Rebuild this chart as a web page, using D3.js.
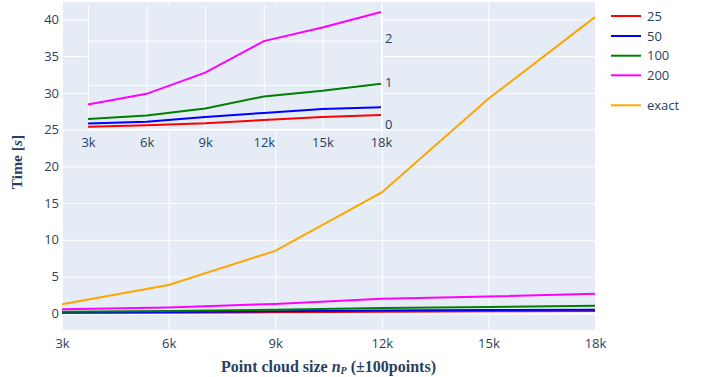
<!DOCTYPE html>
<html>
<head>
<meta charset="utf-8">
<script src="https://cdn.jsdelivr.net/npm/d3@7"></script>
<style>
  body { margin: 0; background: #fff; }
  .tick text { font-family: "Open Sans", sans-serif; font-size: 13px; fill: #2a3f5f; }
</style>
</head>
<body>
<script>
// point cloud sizes and timings (seconds)
var sizes = [3000, 6000, 9000, 12000, 15000, 18000];
var t25 = [0.06, 0.09, 0.135, 0.21, 0.28, 0.32];
var t50 = [0.13, 0.17, 0.28, 0.37, 0.46, 0.50];
var t100 = [0.23, 0.31, 0.47, 0.74, 0.87, 1.03];
var t200 = [0.56, 0.80, 1.28, 1.99, 2.30, 2.65];
var tExact = [1.23, 3.86, 8.5, 16.45, 29.2, 40.3];

var seriesNames = ["25", "50", "100", "200", "exact"];
var seriesColors = ["#ff0000", "#0000ff", "#008000", "#ff00ff", "#ffa500"];
var seriesValues = [t25, t50, t100, t200, tExact];

var mainTicksY = [0, 5, 10, 15, 20, 25, 30, 35, 40];
var insetTicksY = [0, 1, 2];

var w = 706, h = 377;
var bg = "#e5ecf6";

var svg = d3.select("body")
    .append("svg")
    .attr("width", w)
    .attr("height", h);

var series = seriesNames.map(function (name, i) {
    return {
        name: name,
        color: seriesColors[i],
        points: sizes.map(function (s, j) { return [s, seriesValues[i][j]]; })
    };
});

// ---------- main plot ----------
var x = d3.scaleLinear().domain([3000, 18000]).range([62, 595]);
var y = d3.scaleLinear().domain([-2.27, 42.36]).range([330, 2]);

svg.append("rect")
    .attr("x", 62).attr("y", 2)
    .attr("width", 595 - 62).attr("height", 330 - 2)
    .attr("fill", bg);

var gx = svg.append("g")
    .attr("transform", "translate(0,330)")
    .call(d3.axisBottom(x).tickValues(sizes).tickFormat(d3.format("~s"))
        .tickSize(-328).tickPadding(9));
gx.select(".domain").remove();
gx.selectAll(".tick line").attr("stroke", "#fff").attr("stroke-width", 1);

var gy = svg.append("g")
    .attr("transform", "translate(62,0)")
    .call(d3.axisLeft(y).tickValues(mainTicksY).tickSize(-533).tickPadding(3));
gy.select(".domain").remove();
gy.selectAll(".tick line").attr("stroke", "#fff")
    .attr("stroke-width", function (d) { return d === 0 ? 2 : 1; });

var line = d3.line()
    .x(function (d) { return x(d[0]); })
    .y(function (d) { return y(d[1]); });

svg.selectAll(".main-line")
    .data(series)
    .enter()
    .append("path")
    .attr("class", "main-line")
    .attr("d", function (d) { return line(d.points); })
    .attr("fill", "none")
    .attr("stroke", function (d) { return d.color; })
    .attr("stroke-width", 2);

// ---------- inset: the four approximations zoomed ----------
var xi = d3.scaleLinear().domain([3000, 18000]).range([88, 381]);
var yi = d3.scaleLinear().domain([-0.05, 2.806]).range([131.5, 5]);

svg.append("rect")
    .attr("x", 88).attr("y", 5)
    .attr("width", 381 - 88).attr("height", 131.5 - 5)
    .attr("fill", bg);

var gxi = svg.append("g")
    .attr("transform", "translate(0,131.5)")
    .call(d3.axisBottom(xi).tickValues(sizes).tickFormat(d3.format("~s"))
        .tickSize(-126.5).tickPadding(6.5));
gxi.select(".domain").remove();
gxi.selectAll(".tick line").attr("stroke", "#fff");

var gyi = svg.append("g")
    .attr("transform", "translate(381,0)")
    .call(d3.axisRight(yi).tickValues(insetTicksY).tickFormat(d3.format("d"))
        .tickSize(-293).tickPadding(4));
gyi.select(".domain").remove();
gyi.selectAll(".tick line").attr("stroke", "#fff")
    .attr("stroke-width", function (d) { return d === 0 ? 2 : 1; });
gyi.selectAll(".tick text").attr("dy", function (d) { return d === 0 ? "-0.08em" : "0.12em"; });

var lineInset = d3.line()
    .x(function (d) { return xi(d[0]); })
    .y(function (d) { return yi(d[1]); });

svg.selectAll(".inset-line")
    .data(series.slice(0, 4))
    .enter()
    .append("path")
    .attr("class", "inset-line")
    .attr("d", function (d) { return lineInset(d.points); })
    .attr("fill", "none")
    .attr("stroke", function (d) { return d.color; })
    .attr("stroke-width", 2);

// ---------- legend ----------
var legendY = [16, 36, 55.7, 75.3, 105.3];
var legend = svg.selectAll(".legend")
    .data(series)
    .enter()
    .append("g")
    .attr("class", "legend")
    .attr("transform", function (d, i) { return "translate(611," + legendY[i] + ")"; });

legend.append("line")
    .attr("x1", 0).attr("x2", 30)
    .attr("stroke", function (d) { return d.color; })
    .attr("stroke-width", 2);

legend.append("text")
    .attr("x", 36)
    .attr("dy", "0.35em")
    .attr("font-family", "Open Sans, sans-serif")
    .attr("font-size", 13)
    .attr("fill", "#2a3f5f")
    .text(function (d) { return d.name; });

// ---------- axis titles ----------
var titleFont = "Liberation Serif, serif";

var yt = svg.append("text")
    .attr("transform", "translate(22,162) rotate(-90)")
    .attr("text-anchor", "middle")
    .attr("font-family", titleFont)
    .attr("font-weight", "bold")
    .attr("font-size", 15.5)
    .attr("fill", "#2a3f5f");
yt.append("tspan").text("Time [");
yt.append("tspan").attr("font-style", "italic").text("s");
yt.append("tspan").text("]");

var xt = svg.append("text")
    .attr("x", 328.5)
    .attr("y", 372)
    .attr("text-anchor", "middle")
    .attr("font-family", titleFont)
    .attr("font-weight", "bold")
    .attr("font-size", 16)
    .attr("fill", "#2a3f5f");
xt.append("tspan").text("Point cloud size ");
xt.append("tspan").attr("font-style", "italic").text("n");
xt.append("tspan").attr("font-style", "italic").attr("font-size", 10).attr("dy", 2).text("P");
xt.append("tspan").attr("dy", -2).text(" (\u00b1100points)");
</script>
</body>
</html>
